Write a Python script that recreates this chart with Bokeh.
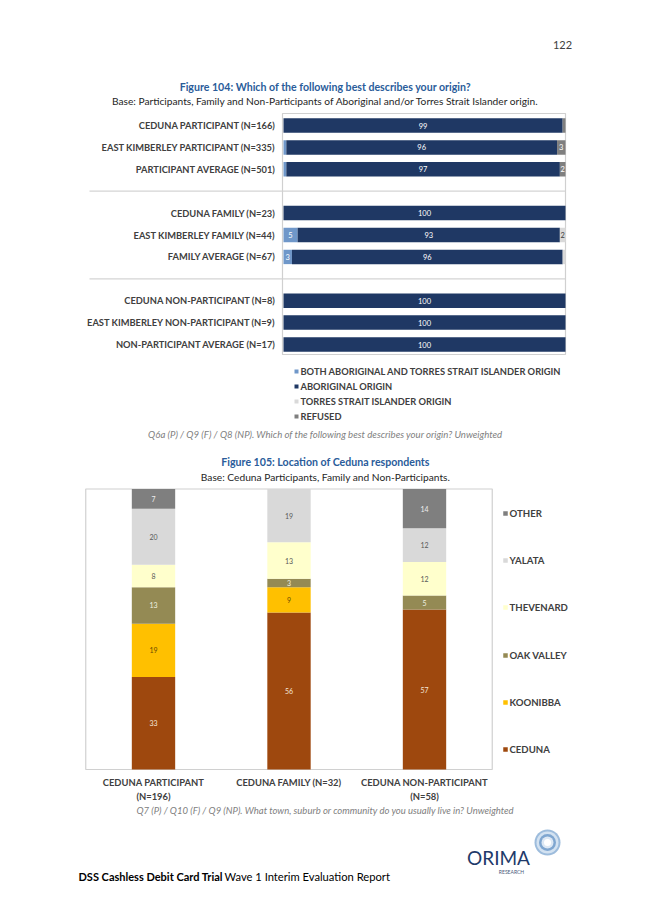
import numpy as np
from bokeh.plotting import figure
from bokeh.models import Range1d, ColumnDataSource
from bokeh.core.properties import value
from bokeh.embed import file_html
from bokeh.resources import INLINE

# ---------------- Figure 104 data ----------------
origin_groups = [
    "CEDUNA PARTICIPANT (N=166)",
    "EAST KIMBERLEY PARTICIPANT (N=335)",
    "PARTICIPANT AVERAGE (N=501)",
    "CEDUNA FAMILY (N=23)",
    "EAST KIMBERLEY FAMILY (N=44)",
    "FAMILY AVERAGE (N=67)",
    "CEDUNA NON-PARTICIPANT (N=8)",
    "EAST KIMBERLEY NON-PARTICIPANT (N=9)",
    "NON-PARTICIPANT AVERAGE (N=17)",
]
origin_slots = [0, 1, 2, 4, 5, 6, 8, 9, 10]
both_origin = [0, 1, 1, 0, 5, 3, 0, 0, 0]
aboriginal_origin = [99, 96, 97, 100, 93, 96, 100, 100, 100]
torres_origin = [0, 0, 0, 0, 2, 1, 0, 0, 0]
refused_origin = [1, 3, 2, 0, 0, 0, 0, 0, 0]
origin_series = [
    "BOTH ABORIGINAL AND TORRES STRAIT ISLANDER ORIGIN",
    "ABORIGINAL ORIGIN",
    "TORRES STRAIT ISLANDER ORIGIN",
    "REFUSED",
]

# ---------------- Figure 105 data ----------------
location_line1 = ["CEDUNA PARTICIPANT", "CEDUNA FAMILY (N=32)", "CEDUNA NON-PARTICIPANT"]
location_line2 = ["(N=196)", "", "(N=58)"]
ceduna = [33, 56, 57]
koonibba = [19, 9, 0]
oak_valley = [13, 3, 5]
thevenard = [8, 13, 12]
yalata = [20, 19, 12]
other = [7, 0, 14]
location_series = ["CEDUNA", "KOONIBBA", "OAK VALLEY", "THEVENARD", "YALATA", "OTHER"]

# ---------------- styling ----------------
FONT = value("Lato")
DARK = "#404040"
TITLE_BLUE = "#2A5C9A"
c1_colors = ["#6F97C9", "#1F3864", "#D9D9D9", "#7F7F7F"]
c1_text = ["#FFFFFF", "#FFFFFF", "#404040", "#FFFFFF"]
c2_colors = ["#9E480E", "#FFC000", "#948A54", "#FFFFCC", "#D9D9D9", "#7F7F7F"]
c2_text = ["#F5E6D8", "#6B4A00", "#F0F0E0", "#595959", "#595959", "#EDEDED"]

# page coordinates of the canvas edges
PX0, PY0 = 1, 1
W, H = 637, 907
PX1, PY1 = PX0 + W, PY0 + H


def lin(v0, p0, v1, p1, a, b):
    k = (v1 - v0) / (p1 - p0)
    return v0 + (a - p0) * k, v0 + (b - p0) * k


p = figure(width=W, height=H, x_range=Range1d(PX0, PX1), y_range=Range1d(PY1, PY0),
           x_axis_type=None, y_axis_type=None, output_backend="svg",
           toolbar_location=None, min_border=0)
p.grid.visible = False
p.outline_line_color = None
p.background_fill_color = "white"
p.border_fill_color = "white"

# chart-specific scales (mapped onto the page)
c1x = lin(0, 284, 100, 566, PX0, PX1)
c1y = lin(0, 126, 10, 345, PY1, PY0)
c2x = lin(0, 154, 2, 425, PX0, PX1)
c2y = lin(0, 770, 100, 489.5, PY1, PY0)
p.extra_x_ranges = {"c1x": Range1d(*c1x), "c2x": Range1d(*c2x)}
p.extra_y_ranges = {"c1y": Range1d(*c1y), "c2y": Range1d(*c2y)}


def txt(x, y, s, size, color=DARK, style="normal", align="left", baseline="middle",
        xr="default", yr="default", font=FONT):
    p.text(x=[x], y=[y], text=[s], text_font=font, text_font_size=f"{size}px",
           text_font_style=style, text_color=color, text_align=align,
           text_baseline=baseline, x_range_name=xr, y_range_name=yr)


# ---------------- page header ----------------
txt(563, 45, "122", 11, color="#404040", align="center")
txt(326, 87, "Figure 104: Which of the following best describes your origin?", 10.6,
    color=TITLE_BLUE, style="bold", align="center")
txt(326, 101, "Base: Participants, Family and Non-Participants of Aboriginal and/or Torres Strait Islander origin.",
    10.2, color="#262626", align="center")

# ---------------- Figure 104 chart ----------------
gap_slots = [s for s in range(max(origin_slots) + 1) if s not in origin_slots]
sep_x0 = (90 - 284) / 2.82
p.segment(x0=[sep_x0] * len(gap_slots), x1=[100] * len(gap_slots), y0=gap_slots, y1=gap_slots,
          line_color="#D4D4D4", line_width=1.2, x_range_name="c1x", y_range_name="c1y")
p.quad(left=[283], right=[566], top=[114], bottom=[355], fill_color=None,
       line_color="#D0D0D0", line_width=1.2)

left = np.zeros(len(origin_slots))
for vals, col, tcol in zip([both_origin, aboriginal_origin, torres_origin, refused_origin],
                           c1_colors, c1_text):
    v = np.array(vals, dtype=float)
    right = left + v
    src = ColumnDataSource(dict(y=origin_slots, left=left, right=right))
    p.hbar(y="y", left="left", right="right", height=0.66, fill_color=col, line_color=None,
           source=src, x_range_name="c1x", y_range_name="c1y")
    m = v >= 2
    lsrc = ColumnDataSource(dict(x=((left + right) / 2)[m], y=np.array(origin_slots)[m],
                                 t=[str(int(a)) for a in v[m]]))
    p.text(x="x", y="y", text="t", source=lsrc, text_font=FONT, text_font_size="7.5px",
           text_color=tcol, text_align="center", text_baseline="middle",
           x_range_name="c1x", y_range_name="c1y")
    left = right

lab_x = (276 - 284) / 2.82
lsrc = ColumnDataSource(dict(x=[lab_x] * len(origin_groups), y=origin_slots, t=origin_groups))
p.text(x="x", y="y", text="t", source=lsrc, text_font=FONT, text_font_size="9.3px",
       text_font_style="bold", text_color=DARK, text_align="right", text_baseline="middle",
       x_range_name="c1x", y_range_name="c1y")

leg1_y = [372, 387, 402, 417]
p.scatter(x=[297] * 4, y=leg1_y, marker="square", size=4, fill_color=c1_colors, line_color=None)
p.text(x=[301] * 4, y=leg1_y, text=origin_series, text_font=FONT, text_font_size="9.3px",
       text_font_style="bold", text_color=DARK, text_align="left", text_baseline="middle")

txt(326, 435, "Q6a (P) / Q9 (F) / Q8 (NP). Which of the following best describes your origin? Unweighted",
    9.6, color="#808080", style="italic", align="center")

# ---------------- Figure 105 header ----------------
txt(326, 462, "Figure 105: Location of Ceduna respondents", 10.6, color=TITLE_BLUE,
    style="bold", align="center")
txt(326, 477, "Base: Ceduna Participants, Family and Non-Participants.", 10.2,
    color="#262626", align="center")

# ---------------- Figure 105 chart ----------------
p.quad(left=[-0.5], right=[len(ceduna) - 0.5], bottom=[0], top=[100], fill_color=None,
       line_color="#D0D0D0", line_width=1.2, x_range_name="c2x", y_range_name="c2y")

xs = np.arange(len(ceduna))
bottom = np.zeros(len(ceduna))
for vals, col, tcol in zip([ceduna, koonibba, oak_valley, thevenard, yalata, other],
                           c2_colors, c2_text):
    v = np.array(vals, dtype=float)
    top = bottom + v
    src = ColumnDataSource(dict(x=xs, bottom=bottom, top=top))
    p.vbar(x="x", bottom="bottom", top="top", width=0.32, fill_color=col, line_color=None,
           source=src, x_range_name="c2x", y_range_name="c2y")
    m = v > 0
    lsrc = ColumnDataSource(dict(x=xs[m], y=((bottom + top) / 2)[m],
                                 t=[str(int(a)) for a in v[m]]))
    p.text(x="x", y="y", text="t", source=lsrc, text_font=FONT, text_font_size="7px",
           text_color=tcol, text_align="center", text_baseline="middle",
           x_range_name="c2x", y_range_name="c2y")
    bottom = top

p.text(x=xs, y=[783] * 3, text=location_line1, text_font=FONT, text_font_size="9.4px",
       text_font_style="bold", text_color=DARK, text_align="center", text_baseline="middle",
       x_range_name="c2x")
p.text(x=xs, y=[797] * 3, text=location_line2, text_font=FONT, text_font_size="9.4px",
       text_font_style="bold", text_color=DARK, text_align="center", text_baseline="middle",
       x_range_name="c2x")

leg2_y = [750, 703, 656, 608, 561, 514]
p.scatter(x=[506] * 6, y=leg2_y, marker="square", size=4.5, fill_color=c2_colors, line_color=None)
p.text(x=[510] * 6, y=leg2_y, text=location_series, text_font=FONT, text_font_size="9.6px",
       text_font_style="bold", text_color=DARK, text_align="left", text_baseline="middle")

txt(326, 811, "Q7 (P) / Q10 (F) / Q9 (NP). What town, suburb or community do you usually live in? Unweighted",
    9.5, color="#808080", style="italic", align="center")

# ---------------- footer ----------------
txt(79, 877, "DSS Cashless Debit Card Trial", 11, color="#000000", style="bold")
txt(225, 877, "Wave 1 Interim Evaluation Report", 11.2, color="#000000")

for r, c in zip([13, 11, 8.5, 6, 3.5], ["#9DBCDC", "#D3E2F1", "#7FA6D0", "#DDE8F4", "#FFFFFF"]):
    p.circle(x=[548], y=[843], radius=r, fill_color=c, line_color=None)
txt(499, 858, "ORIMA", 19, color="#1F3A6A", align="center")
txt(512, 872, "RESEARCH", 5, color="#4A5A7A", align="center")

open("out.html", "w").write(file_html(p, INLINE))
